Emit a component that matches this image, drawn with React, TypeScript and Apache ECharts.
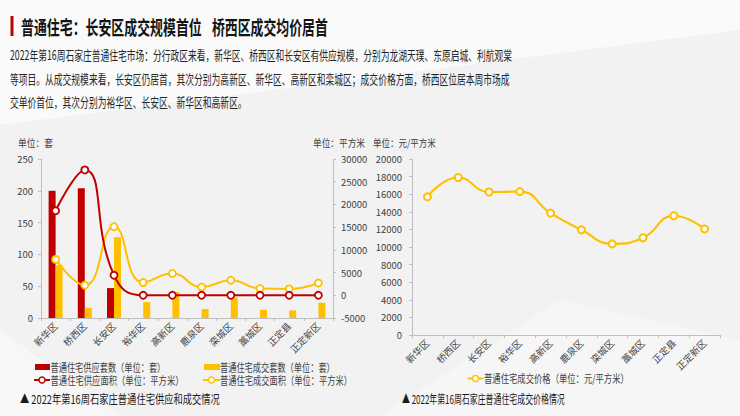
import React, { useEffect, useRef } from "react";
import * as echarts from "echarts";

const categories = ["新华区", "桥西区", "长安区", "裕华区", "高新区", "鹿泉区", "栾城区", "藁城区", "正定县", "正定新区"];
const supplyUnits = [200, 204, 47, 0, 0, 0, 0, 0, 0, 0];
const dealUnits = [83, 16, 127, 25, 41, 14, 32, 13, 12, 24];
const supplyArea = [18600, 27600, 4400, 0, 0, 0, 0, 0, 0, 0];
const dealArea = [7900, 2200, 15100, 2800, 4800, 1800, 3300, 1500, 1400, 2700];
const dealPrice = [15700, 17900, 16250, 16300, 13850, 11950, 10350, 11050, 13550, 12050];

const nameSupplyUnits = "普通住宅供应套数（单位：套）";
const nameDealUnits = "普通住宅成交套数（单位：套）";
const nameSupplyArea = "普通住宅供应面积（单位：平方米）";
const nameDealArea = "普通住宅成交面积（单位：平方米）";
const namePrice = "普通住宅成交价格（单位：元/平方米）";

const titleA = "普通住宅：长安区成交规模首位";
const titleB = "桥西区成交均价居首";
const body1 = "2022年第16周石家庄普通住宅市场：分行政区来看，新华区、桥西区和长安区有供应规模，分别为龙湖天璞、东原启城、利航观棠";
const body2 = "等项目。从成交规模来看，长安区仍居首，其次分别为高新区、新华区、高新区和栾城区；成交价格方面，桥西区位居本周市场成";
const body3 = "交单价首位，其次分别为裕华区、长安区、新华区和高新区。";
const captionLeft = "▲ 2022年第16周石家庄普通住宅供应和成交情况";
const captionRight = "▲ 2022年第16周石家庄普通住宅成交价格情况";

const RED = "#C00000";
const YELLOW = "#FFC000";
const FAMILY = '"Noto Sans CJK SC", "Noto Sans", sans-serif';

export default function App() {
  const ref = useRef<HTMLDivElement>(null);
  useEffect(() => {
    if (!ref.current) return;
    const chart = echarts.init(ref.current, undefined, { renderer: "svg" });
    const canvas = document.createElement("canvas");
    const ctx = canvas.getContext("2d")!;
    const measure = (text: string, size: number, weight: string) => {
      ctx.font = `${weight} ${size}px ${FAMILY}`;
      return ctx.measureText(text).width || text.length * size;
    };
    const txt = (text: string, x: number, y: number, size: number, weight: string, color: string, target?: number, scale?: number) => {
      const sx = scale ?? (target ? target / measure(text, size, weight) : 1);
      return {
        type: "text",
        x,
        y,
        scaleX: sx,
        style: {
          text,
          fontSize: size,
          fontWeight: weight,
          fontFamily: FAMILY,
          fill: color,
          textAlign: "left",
          align: "left",
          textVerticalAlign: "middle",
          verticalAlign: "middle",
        },
      };
    };
    const bodyScale = 500 / measure(body2, 13, "normal");

    const graphic: any[] = [
      { type: "polygon", shape: { points: [[0, 0], [740, 0], [740, 30], [0, 125]] }, style: { fill: "rgba(255,255,255,0.6)" }, silent: true },
      { type: "polygon", shape: { points: [[380, 416], [560, 300], [740, 340], [740, 416]] }, style: { fill: "rgba(255,255,255,0.35)" }, silent: true },
      { type: "polygon", shape: { points: [[0, 330], [120, 416], [0, 416]] }, style: { fill: "rgba(255,255,255,0.4)" }, silent: true },
      { type: "rect", shape: { x: 10.5, y: 16, width: 3, height: 20 }, style: { fill: RED } },
      txt(titleA, 21, 27, 19, "bold", "#141414", 181),
      txt(titleB, 212, 27, 19, "bold", "#141414", 116),
      txt(body1, 10, 54, 13, "normal", "#262626", 502),
      txt(body2, 10, 78, 13, "normal", "#262626", undefined, bodyScale),
      txt(body3, 10, 101, 13, "normal", "#262626", undefined, bodyScale),
      txt("单位：套", 18, 143, 10, "normal", "#404040", 35),
      txt("单位：平方米", 313, 143, 10, "normal", "#404040", 52),
      txt("单位：元/平方米", 373, 143, 10, "normal", "#404040", 63),
      // left legend
      { type: "rect", shape: { x: 35, y: 364, width: 15, height: 6 }, style: { fill: RED } },
      txt(nameSupplyUnits, 50.5, 367, 11, "normal", "#404040", 115),
      { type: "rect", shape: { x: 204, y: 364, width: 16, height: 6 }, style: { fill: YELLOW } },
      txt(nameDealUnits, 220, 367, 11, "normal", "#404040", 115),
      { type: "line", shape: { x1: 34, y1: 380, x2: 50, y2: 380 }, style: { stroke: RED, lineWidth: 2 } },
      { type: "circle", shape: { cx: 42, cy: 380, r: 3 }, style: { fill: "#fff", stroke: RED, lineWidth: 1.5 } },
      txt(nameSupplyArea, 50.5, 380, 11, "normal", "#404040", 133),
      { type: "line", shape: { x1: 203, y1: 380, x2: 220, y2: 380 }, style: { stroke: YELLOW, lineWidth: 2 } },
      { type: "circle", shape: { cx: 211.5, cy: 380, r: 3 }, style: { fill: "#fff", stroke: YELLOW, lineWidth: 1.5 } },
      txt(nameDealArea, 220, 380, 11, "normal", "#404040", 132),
      // right legend
      { type: "line", shape: { x1: 467.5, y1: 378.5, x2: 483.5, y2: 378.5 }, style: { stroke: YELLOW, lineWidth: 2 } },
      { type: "circle", shape: { cx: 475.5, cy: 378.5, r: 3 }, style: { fill: "#fff", stroke: YELLOW, lineWidth: 1.5 } },
      txt(namePrice, 484, 378.5, 11, "normal", "#404040", 145),
      txt(captionLeft, 20, 399, 12, "normal", "#1a1a1a", 200),
      txt(captionRight, 402, 398.5, 12, "normal", "#1a1a1a", 163),
    ];

    const axisLine = { show: true, lineStyle: { color: "#bfbfbf", width: 1 } };
    const axisTick = { show: true, length: 3, lineStyle: { color: "#bfbfbf" } };
    const plain = (v: number) => String(v);
    const yLabel = { fontSize: 9.5, color: "#404040", fontFamily: FAMILY, formatter: plain };
    const xLabel = { fontSize: 9.5, color: "#404040", fontFamily: FAMILY, rotate: 45, margin: 6, interval: 0 };

    chart.setOption({
      animation: false,
      backgroundColor: "#f2f2f3",
      textStyle: { fontFamily: FAMILY },
      graphic,
      grid: [
        { left: 41, right: 407, top: 159, bottom: 98 },
        { left: 412, right: 20, top: 159, bottom: 81 },
      ],
      xAxis: [
        { type: "category", gridIndex: 0, data: categories, axisLine, axisTick, axisLabel: xLabel },
        { type: "category", gridIndex: 1, data: categories, axisLine, axisTick, axisLabel: xLabel },
      ],
      yAxis: [
        { type: "value", gridIndex: 0, min: 0, max: 250, interval: 50, position: "left", axisLine, axisTick, splitLine: { show: false }, axisLabel: { ...yLabel, margin: 8 } },
        { type: "value", gridIndex: 0, min: -5000, max: 30000, interval: 5000, position: "right", axisLine, axisTick, splitLine: { show: false }, axisLabel: { ...yLabel, margin: 8 } },
        { type: "value", gridIndex: 1, min: 0, max: 20000, interval: 2000, position: "left", axisLine, axisTick, splitLine: { show: false }, axisLabel: { ...yLabel, margin: 10 } },
      ],
      series: [
        { name: nameSupplyUnits, type: "bar", xAxisIndex: 0, yAxisIndex: 0, data: supplyUnits, barWidth: 7, barGap: "0%", itemStyle: { color: RED } },
        { name: nameDealUnits, type: "bar", xAxisIndex: 0, yAxisIndex: 0, data: dealUnits, barWidth: 7, barGap: "0%", itemStyle: { color: YELLOW } },
        {
          name: nameSupplyArea, type: "line", xAxisIndex: 0, yAxisIndex: 1, data: supplyArea, smooth: true,
          symbol: "circle", symbolSize: 7, lineStyle: { color: RED, width: 2 },
          itemStyle: { color: "#fff", borderColor: RED, borderWidth: 1.8 }, z: 5,
        },
        {
          name: nameDealArea, type: "line", xAxisIndex: 0, yAxisIndex: 1, data: dealArea, smooth: true,
          symbol: "circle", symbolSize: 7, lineStyle: { color: YELLOW, width: 2 },
          itemStyle: { color: "#fff", borderColor: YELLOW, borderWidth: 1.8 }, z: 4,
        },
        {
          name: namePrice, type: "line", xAxisIndex: 1, yAxisIndex: 2, data: dealPrice, smooth: true,
          symbol: "circle", symbolSize: 7, lineStyle: { color: YELLOW, width: 2.2 },
          itemStyle: { color: "#fff", borderColor: YELLOW, borderWidth: 2 },
        },
      ],
    });
    return () => chart.dispose();
  }, []);
  return <div ref={ref} style={{ position: "fixed", left: 0, top: 0, width: 740, height: 416 }} />;
}
